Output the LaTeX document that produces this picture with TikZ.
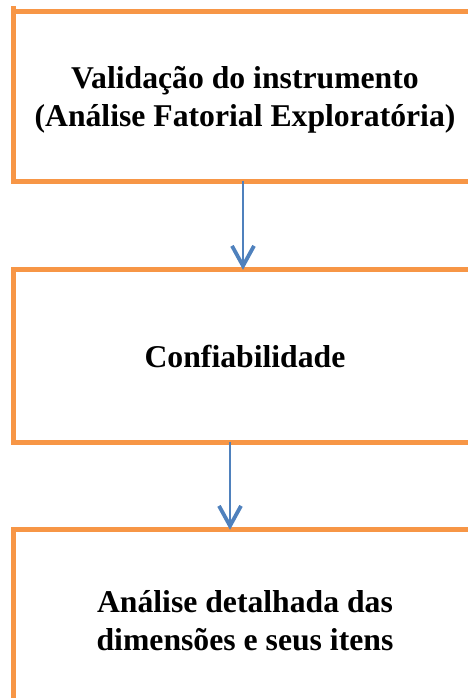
\documentclass[tikz,border=0pt]{standalone}
\usepackage{fontspec}
\setmainfont{Liberation Serif}
\usetikzlibrary{arrows.meta}
\definecolor{boxorange}{HTML}{F79646}
\definecolor{arrowblue}{HTML}{4F81BD}
\begin{document}
\begin{tikzpicture}[x=1pt,y=-1pt,
  box/.style={rectangle, inner sep=0pt, minimum width=464pt},
  label/.style={align=center, inner sep=0pt,
    font=\fontsize{31.7}{38}\selectfont\bfseries},
  border/.style={draw=boxorange, line width=5pt, line join=miter},
  arr/.style={draw=arrowblue, line width=2pt,
    -{Straight Barb[length=20pt, width=22pt, line width=3.8pt]}}]
\useasboundingbox (0,0) rectangle (467,698);
% boxes
\node[box, minimum height=169pt] (b1) at (245,96.5) {};
\node[box, minimum height=172pt] (b2) at (245,356) {};
\node[box, minimum height=180pt] (b3) at (245,620) {};
% texts
\node[label] (t1) at (245,100) {Validação do instrumento\\(Análise Fatorial Exploratória)};
\node[label] (t2) at (b2.center) {Confiabilidade};
\node[label] (t3) at (245,621) {Análise detalhada das\\dimensões e seus itens};
% borders (left, top, bottom; right side beyond the page)
\draw[border] (b1.north east) -- (b1.north west -| 13,0) -- (b1.south west -| 13,0) -- (b1.south east);
\draw[border] (b1.north west -| 13,0) -- ++(0,-6);
\draw[border] (b2.north east) -- (b2.north west -| 13,0) -- (b2.south west -| 13,0) -- (b2.south east);
\draw[border] (b3.north east) -- (b3.north west -| 13,0) -- (b3.south west -| 13,0);
% connectors
\coordinate (a1) at (243,0);
\coordinate (a2) at (230,0);
\draw[arr] (b1.south -| a1) -- (b2.north -| a1);
\draw[arr] (b2.south -| a2) -- (b3.north -| a2);
\end{tikzpicture}
\end{document}
